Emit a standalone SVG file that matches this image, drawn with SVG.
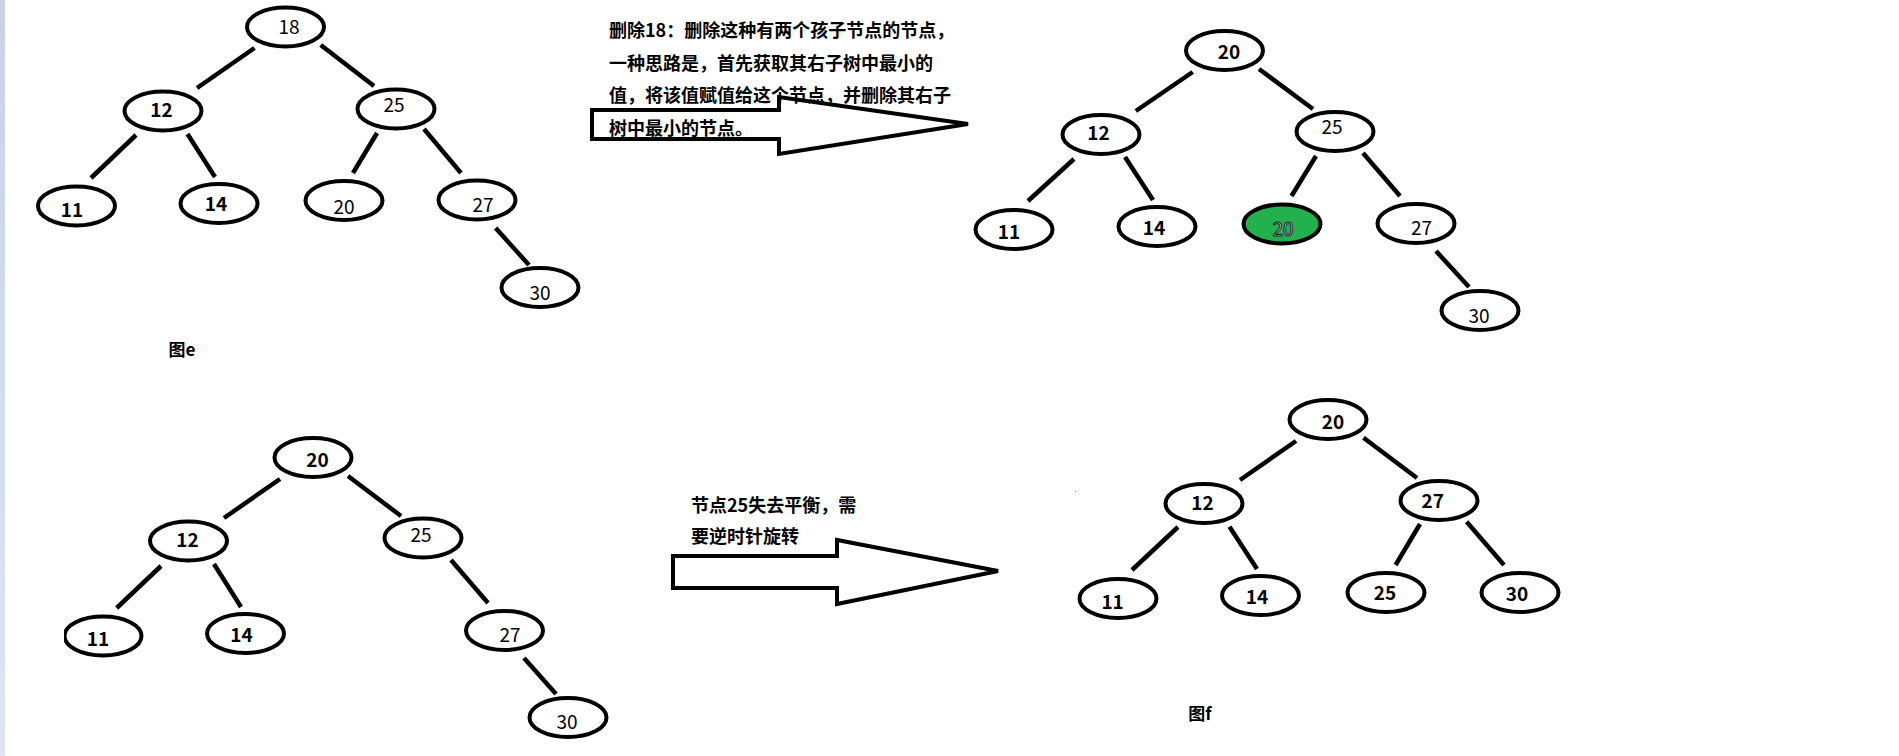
<svg xmlns="http://www.w3.org/2000/svg" width="1899" height="756" viewBox="0 0 1899 756">
<style>
.n{fill:#fff;stroke:#000;stroke-width:4}
.g{fill:#22b14c;stroke:#000;stroke-width:4}
.e line{stroke:#000;stroke-width:4.5}
.r{font-family:"Noto Sans CJK SC","Noto Sans",sans-serif;font-size:19px;font-weight:400;text-anchor:middle;fill:#000}
.b{font-family:"Noto Sans CJK SC","Noto Sans",sans-serif;font-size:19px;font-weight:700;text-anchor:middle;fill:#000}
.w{font-family:"Noto Sans CJK SC","Noto Sans",sans-serif;font-size:19px;font-weight:400;text-anchor:middle;fill:#f4f4f4;stroke:#1a1a2a;stroke-width:1}
.t{font-family:"Noto Sans CJK SC","Noto Sans",sans-serif;font-size:18px;font-weight:700;fill:#000}
.cap{font-family:"Noto Sans CJK SC","Noto Sans",sans-serif;font-size:17px;font-weight:700;text-anchor:middle;fill:#000}
.arrow{fill:none;stroke:#000;stroke-width:4;stroke-linejoin:miter}
</style>
<defs>
<linearGradient id="bar" x1="0" y1="0" x2="0" y2="1"><stop offset="0" stop-color="#c6d2e6"/><stop offset="1" stop-color="#dfe6f2"/></linearGradient>
<clipPath id="clip11"><rect x="64" y="590" width="120" height="80"/></clipPath>
</defs>
<rect width="1899" height="756" fill="#fff"/>
<rect x="0" y="0" width="5" height="756" fill="url(#bar)"/>

<g id="connectors" class="e">
<!-- tree e -->
<line x1="254.5" y1="48" x2="197" y2="88"/>
<line x1="320.7" y1="45" x2="374" y2="86"/>
<line x1="136" y1="135" x2="91" y2="178"/>
<line x1="187.5" y1="134" x2="215" y2="177"/>
<line x1="377" y1="133" x2="353" y2="173"/>
<line x1="424" y1="129" x2="461" y2="173"/>
<line x1="495.6" y1="228" x2="529" y2="265"/>
<!-- top right tree -->
<line x1="1192.7" y1="72" x2="1135.8" y2="111"/>
<line x1="1259" y1="69" x2="1313" y2="109"/>
<line x1="1074" y1="159" x2="1028" y2="201"/>
<line x1="1125" y1="157" x2="1153" y2="200"/>
<line x1="1316" y1="156" x2="1291.5" y2="196"/>
<line x1="1363" y1="153" x2="1400" y2="196"/>
<line x1="1436" y1="251" x2="1469" y2="287"/>
<!-- bottom left tree -->
<line x1="280" y1="479" x2="224" y2="518"/>
<line x1="348" y1="476" x2="401" y2="516"/>
<line x1="161" y1="566" x2="116.7" y2="608"/>
<line x1="214" y1="564" x2="241" y2="607"/>
<line x1="451" y1="560" x2="488" y2="603"/>
<line x1="524" y1="658" x2="556" y2="694"/>
<!-- bottom right tree -->
<line x1="1296" y1="441" x2="1240" y2="480"/>
<line x1="1363.5" y1="437.7" x2="1417" y2="478"/>
<line x1="1178" y1="527" x2="1132" y2="570"/>
<line x1="1229.5" y1="526.7" x2="1257" y2="569"/>
<line x1="1420" y1="524" x2="1395.6" y2="565"/>
<line x1="1466.6" y1="521.7" x2="1504" y2="565"/>
</g>

<!-- tree e -->
<g id="e18"><ellipse class="n" cx="285.5" cy="27" rx="38.5" ry="19.5"/><text class="r" x="289" y="34">18</text></g>
<g id="e12"><ellipse class="n" cx="163" cy="111" rx="38.5" ry="19.5"/><text class="b" x="161.5" y="117">12</text></g>
<g id="e25"><ellipse class="n" cx="396" cy="109" rx="38.5" ry="19.5"/><text class="r" x="394" y="112">25</text></g>
<g id="e11"><ellipse class="n" cx="76.5" cy="206" rx="38.5" ry="19.5"/><text class="b" x="72" y="217">11</text></g>
<g id="e14"><ellipse class="n" cx="219" cy="203.5" rx="38.5" ry="19.5"/><text class="b" x="216" y="211">14</text></g>
<g id="e20"><ellipse class="n" cx="344" cy="200.5" rx="38.5" ry="19.5"/><text class="r" x="344" y="214">20</text></g>
<g id="e27"><ellipse class="n" cx="477" cy="200" rx="38.5" ry="19.5"/><text class="r" x="483" y="212">27</text></g>
<g id="e30"><ellipse class="n" cx="540" cy="287.5" rx="38.5" ry="19.5"/><text class="r" x="540" y="300">30</text></g>
<text id="cap-e" class="cap" x="182" y="356">图e</text>

<!-- explanation 1 -->
<g id="note1">
<text class="t" x="609" y="37">删除18：删除这种有两个孩子节点的节点，</text>
<text class="t" x="609" y="69.5">一种思路是，首先获取其右子树中最小的</text>
<text class="t" x="609" y="102">值，将该值赋值给这个节点，并删除其右子</text>
</g>
<g id="arrow1"><polygon class="arrow" points="592,110 779,110 779,97 968,124 779,154 779,139 592,139"/></g>
<text class="t" x="609" y="134.5">树中最小的节点。</text>

<!-- top right tree -->
<g id="a20"><ellipse class="n" cx="1224.5" cy="50.5" rx="38.5" ry="19.5"/><text class="b" x="1229" y="59">20</text></g>
<g id="a12"><ellipse class="n" cx="1101" cy="134.5" rx="38.5" ry="19.5"/><text class="b" x="1098.5" y="140">12</text></g>
<g id="a25"><ellipse class="n" cx="1335" cy="131.5" rx="38.5" ry="19.5"/><text class="r" x="1332" y="134">25</text></g>
<g id="a11"><ellipse class="n" cx="1014" cy="229.5" rx="38.5" ry="19.5"/><text class="b" x="1009" y="239">11</text></g>
<g id="a14"><ellipse class="n" cx="1157" cy="226.5" rx="38.5" ry="19.5"/><text class="b" x="1154" y="235">14</text></g>
<g id="a20g"><ellipse class="g" cx="1282" cy="224" rx="38.5" ry="19.5"/><text class="w" x="1283" y="236">20</text></g>
<g id="a27"><ellipse class="n" cx="1416" cy="223.5" rx="38.5" ry="19.5"/><text class="r" x="1421.5" y="235">27</text></g>
<g id="a30"><ellipse class="n" cx="1480" cy="310.5" rx="38.5" ry="19.5"/><text class="r" x="1479" y="323">30</text></g>

<!-- bottom left tree -->
<g id="b20"><ellipse class="n" cx="313" cy="457.5" rx="38.5" ry="19.5"/><text class="b" x="317.5" y="467">20</text></g>
<g id="b12"><ellipse class="n" cx="188.5" cy="541" rx="38.5" ry="19.5"/><text class="b" x="187.5" y="547">12</text></g>
<g id="b25"><ellipse class="n" cx="423" cy="538" rx="38.5" ry="19.5"/><text class="r" x="421" y="542">25</text></g>
<g id="b11" clip-path="url(#clip11)"><ellipse class="n" cx="103" cy="636" rx="38.5" ry="19.5"/><text class="b" x="98" y="646">11</text></g>
<g id="b14"><ellipse class="n" cx="245.5" cy="633.5" rx="38.5" ry="19.5"/><text class="b" x="241.5" y="642">14</text></g>
<g id="b27"><ellipse class="n" cx="504.5" cy="630.5" rx="38.5" ry="19.5"/><text class="r" x="510" y="642">27</text></g>
<g id="b30"><ellipse class="n" cx="568" cy="717.5" rx="38.5" ry="19.5"/><text class="r" x="567" y="729">30</text></g>

<!-- explanation 2 -->
<g id="note2">
<text class="t" x="691" y="512">节点25失去平衡，需</text>
<text class="t" x="691" y="543">要逆时针旋转</text>
</g>
<g id="arrow2"><polygon class="arrow" points="673,556 837,556 837,540 998,571 837,604 837,588 673,588"/></g>

<!-- bottom right tree -->
<g id="f20"><ellipse class="n" cx="1328" cy="419.5" rx="38.5" ry="19.5"/><text class="b" x="1333" y="429">20</text></g>
<g id="f12"><ellipse class="n" cx="1204" cy="503.5" rx="38.5" ry="19.5"/><text class="b" x="1202.5" y="510">12</text></g>
<g id="f27"><ellipse class="n" cx="1439" cy="500.5" rx="38.5" ry="19.5"/><text class="b" x="1432.7" y="508">27</text></g>
<g id="f11"><ellipse class="n" cx="1118" cy="598.5" rx="38.5" ry="19.5"/><text class="b" x="1112.6" y="609">11</text></g>
<g id="f14"><ellipse class="n" cx="1260.5" cy="595.5" rx="38.5" ry="19.5"/><text class="b" x="1257" y="604">14</text></g>
<g id="f25"><ellipse class="n" cx="1386" cy="592.5" rx="38.5" ry="19.5"/><text class="b" x="1385" y="600">25</text></g>
<g id="f30"><ellipse class="n" cx="1520" cy="592.5" rx="38.5" ry="19.5"/><text class="b" x="1517" y="601">30</text></g>
<text id="cap-f" class="cap" x="1200" y="720">图f</text>
<rect x="1075" y="491" width="1" height="1" fill="#888"/>
</svg>
